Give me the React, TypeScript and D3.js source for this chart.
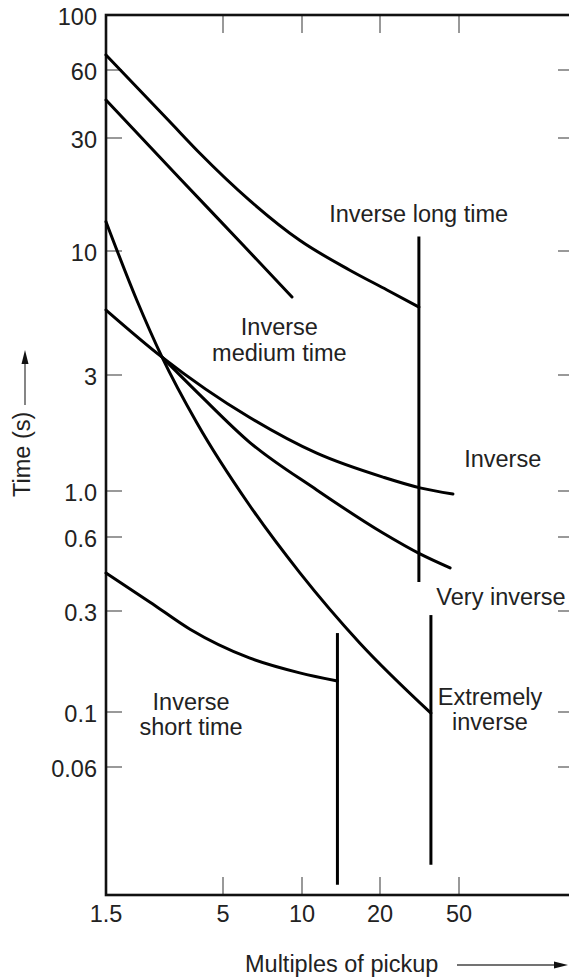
import React, { useEffect, useRef } from "react";
import * as d3 from "d3";

// Time-current characteristics: [multiple of pickup, time (s)]
const inverseLongTime: [number, number][] = [
  [1.5, 69], [2.9, 35.3], [3.95, 25.8], [6.3, 16.4], [9.8, 11.1], [15.3, 8.3], [21.7, 6.85], [31.4, 5.8],
];
const inverseMediumTime: [number, number][] = [
  [1.5, 44.2], [3.2, 20.3], [5.96, 10.6], [9.16, 6.4],
];
const extremelyInverse: [number, number][] = [
  [1.5, 13.3], [2.06, 6.2], [2.67, 3.57], [3.83, 1.9], [6.3, 0.856], [9.8, 0.43], [16.7, 0.212], [36.1, 0.099],
];
const inverse: [number, number][] = [
  [1.5, 5.64], [2.67, 3.57], [6.3, 2.01], [11.4, 1.43], [20.7, 1.14], [31.8, 1.03], [46.6, 0.967],
];
const veryInverse: [number, number][] = [
  [2.67, 3.57], [3.95, 2.48], [6.3, 1.59], [11.4, 1.01], [20.7, 0.627], [31.8, 0.512], [45.1, 0.449],
];
const inverseShortTime: [number, number][] = [
  [1.5, 0.428], [2.36, 0.326], [3.56, 0.246], [6.3, 0.18], [9.8, 0.153], [13.7, 0.14],
];

// vertical cut-off bars: [multiple, top time, bottom time]
const cutoffs: [number, number, number][] = [
  [31.4, 11.5, 0.394],
  [36.1, 0.287, 0.0242],
  [13.7, 0.236, 0.0201],
];

const xTicks = [1.5, 5, 10, 20, 50];
const xTickLabels = ["1.5", "5", "10", "20", "50"];
const yTicks = [100, 60, 30, 10, 3, 1, 0.6, 0.3, 0.1, 0.06];
const yTickLabels = ["100", "60", "30", "10", "3", "1.0", "0.6", "0.3", "0.1", "0.06"];

// curve names and where they sit (data space, first baseline)
const curveLabels = [
  ["Inverse long time"],
  ["Inverse", "medium time"],
  ["Inverse"],
  ["Very inverse"],
  ["Extremely", "inverse"],
  ["Inverse", "short time"],
];
const curveLabelAt: [number, number][] = [
  [31.3, 13.3], [8.2, 4.42], [83, 1.26], [81.4, 0.317], [71.6, 0.108], [3.6, 0.1024],
];

const W = 569;
const H = 979;
const FONT = "'Liberation Sans', Arial, Helvetica, sans-serif";

const App = () => {
  const ref = useRef<SVGSVGElement>(null);

  useEffect(() => {
    if (!ref.current) return;
    const svg = d3.select(ref.current);
    svg.selectAll("*").remove();

    // the printed axes are hand-ruled, so the log scales are calibrated per tick
    const x = d3.scaleLog().domain(xTicks).range([106, 223, 302, 380, 459]);
    const y = d3
      .scaleLog()
      .domain(yTicks)
      .range([15, 70, 138, 251, 375, 491, 537, 611, 712, 767]);

    const left = x(1.5);
    const right = 574;
    const top = y(100);
    const bottom = 895;

    // tick marks (grey, inward)
    const ticks = svg.append("g").attr("stroke", "#777").attr("stroke-width", 1.5);
    yTicks.slice(1).forEach((t) => {
      ticks.append("line").attr("x1", left).attr("x2", left + 16).attr("y1", y(t)).attr("y2", y(t));
      ticks.append("line").attr("x1", right - 16).attr("x2", right).attr("y1", y(t)).attr("y2", y(t));
    });
    xTicks.slice(1).forEach((t) => {
      ticks.append("line").attr("x1", x(t)).attr("x2", x(t)).attr("y1", top).attr("y2", top + 18);
      ticks.append("line").attr("x1", x(t)).attr("x2", x(t)).attr("y1", bottom - 18).attr("y2", bottom);
    });

    // frame
    svg
      .append("rect")
      .attr("x", left)
      .attr("y", top)
      .attr("width", right - left)
      .attr("height", bottom - top)
      .attr("fill", "none")
      .attr("stroke", "#111")
      .attr("stroke-width", 2.6);

    // tick labels
    const labels = svg
      .append("g")
      .attr("font-family", FONT)
      .attr("font-size", 23.5)
      .attr("fill", "#222");
    yTicks.forEach((t, i) => {
      labels
        .append("text")
        .attr("x", left - 9)
        .attr("y", y(t) + 10)
        .attr("text-anchor", "end")
        .text(yTickLabels[i]);
    });
    xTicks.forEach((t, i) => {
      labels
        .append("text")
        .attr("x", x(t))
        .attr("y", bottom + 27)
        .attr("text-anchor", "middle")
        .text(xTickLabels[i]);
    });

    // axis titles with arrows
    labels
      .append("text")
      .attr("transform", `translate(30,497) rotate(-90)`)
      .attr("text-anchor", "start")
      .text("Time (s)");
    labels.append("text").attr("x", 245).attr("y", 972).text("Multiples of pickup");

    svg
      .append("line")
      .attr("x1", 25).attr("x2", 25).attr("y1", 405).attr("y2", 360)
      .attr("stroke", "#444").attr("stroke-width", 1.3);
    svg.append("path").attr("d", "M25,350 L21.5,364 L28.5,364 Z").attr("fill", "#111");
    svg
      .append("line")
      .attr("x1", 457).attr("x2", 558).attr("y1", 965).attr("y2", 965)
      .attr("stroke", "#444").attr("stroke-width", 1.3);
    svg.append("path").attr("d", "M568,965 L554,961.5 L554,968.5 Z").attr("fill", "#111");

    // characteristic curves
    const line = d3
      .line<[number, number]>()
      .x((d) => x(d[0]))
      .y((d) => y(d[1]))
      .curve(d3.curveMonotoneX);

    const curves = [inverseLongTime, inverseMediumTime, extremelyInverse, inverse, veryInverse, inverseShortTime];
    svg
      .append("g")
      .selectAll("path")
      .data(curves)
      .enter()
      .append("path")
      .attr("d", (d) => line(d))
      .attr("fill", "none")
      .attr("stroke", "#000")
      .attr("stroke-width", 3)
      .attr("stroke-linecap", "round");

    svg
      .append("g")
      .selectAll("line")
      .data(cutoffs)
      .enter()
      .append("line")
      .attr("x1", (d) => x(d[0]))
      .attr("x2", (d) => x(d[0]))
      .attr("y1", (d) => y(d[1]))
      .attr("y2", (d) => y(d[2]))
      .attr("stroke", "#000")
      .attr("stroke-width", 3);

    // curve names
    curveLabels.forEach((rows, i) => {
      const [lx, ly] = curveLabelAt[i];
      const t = labels
        .append("text")
        .attr("x", x(lx))
        .attr("y", y(ly))
        .attr("text-anchor", "middle");
      rows.forEach((r, j) => {
        t.append("tspan")
          .attr("x", x(lx))
          .attr("dy", j === 0 ? 0 : 25.5)
          .text(r);
      });
    });
  }, []);

  return (
    <svg
      ref={ref}
      width={W}
      height={H}
      style={{ position: "absolute", left: 0, top: 0, background: "#fff" }}
    />
  );
};

export default App;
